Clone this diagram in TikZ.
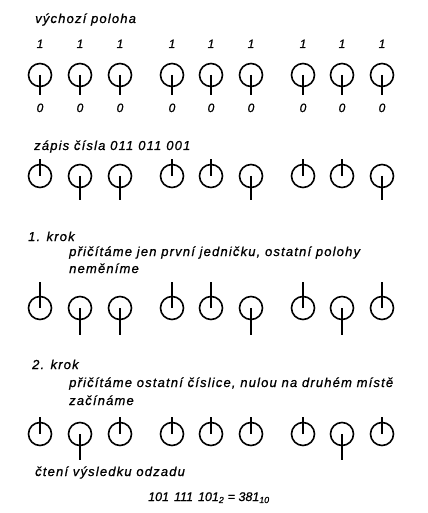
\documentclass[tikz,border=0pt]{standalone}
\usepackage{fontspec}
\setmainfont{Liberation Sans}
\newfontfamily\lettering[LetterSpace=9,FakeBold=0.8]{Liberation Sans}
\newfontfamily\plainlettering[FakeBold=0.8]{Liberation Sans}
\usetikzlibrary{calc}
\begin{document}
\begin{tikzpicture}[x=1bp,y=-1bp,
  lbl/.style={font=\lettering\fontsize{13bp}{15bp}\selectfont\itshape, inner sep=0pt},
  txt/.style={lbl, anchor=base west},
  dig/.style={font=\lettering\fontsize{12bp}{14bp}\selectfont\itshape, inner sep=0pt, anchor=base},
  formula/.style={font=\plainlettering\fontsize{12.5bp}{14bp}\selectfont\itshape, inner sep=0pt, anchor=base west},
  wheel/.style={draw, circle, line width=1.6bp, minimum size=23bp, inner sep=0pt},
  stem/.style={line width=1.6bp}]
\useasboundingbox (0,0) rectangle (427,513);
\def\xs{{40,80,120,172,211,251,303,342,382}}
% draw a row: #1 row id, #2 y, #3 pattern list (1 = stem up), #4 up length, #5 down length
\newcommand{\wheelrow}[5]{%
  \foreach \v [count=\i] in {#3} {
    \pgfmathsetmacro{\xx}{\xs[\i-1]}
    \node[wheel] (w#1\i) at (\xx,#2) {};
    \ifnum\v=1
      \coordinate (e#1\i) at ($(w#1\i.center)+(0,-#4)$);
    \else
      \coordinate (e#1\i) at ($(w#1\i.center)+(0,#5)$);
    \fi
    \draw[stem] (w#1\i.center) -- (e#1\i);
  }}
% texts
\node[txt] (t1) at (35,23) {výchozí poloha};
\node[txt] (t2) at (34,150) {zápis čísla 011\hspace{5bp}011\hspace{5bp}001};
\node[txt] (t3) at (28,241) {1. krok};
\node[txt] (t3a) at (69,256) {přičítáme jen první jedničku, ostatní polohy};
\node[txt] (t3b) at (69,273) {neměníme};
\node[txt] (t4) at (32,369) {2. krok};
\node[txt] (t4a) at (69,387) {přičítáme ostatní číslice, nulou na druhém místě};
\node[txt] (t4b) at (69,405) {začínáme};
\node[txt] (t5) at (35,476) {čtení výsledku odzadu};
\node[formula] (t6) at (148,501) {101\hspace{5bp}111\hspace{5bp}101\textsubscript{2} = 381\textsubscript{10}};
% row 1 labels
\foreach \i in {1,...,9} {
  \pgfmathsetmacro{\xx}{\xs[\i-1]}
  \node[dig] (one\i) at (\xx,48) {1};
  \node[dig] (zero\i) at (\xx,112) {0};
}
% wheel rows
\wheelrow{a}{75}{0,0,0,0,0,0,0,0,0}{17}{20}
\wheelrow{b}{176}{1,0,0,1,1,0,1,1,0}{17}{24}
\wheelrow{c}{308}{1,0,0,1,1,0,1,0,1}{26}{27}
\wheelrow{d}{434}{1,0,1,1,1,1,1,0,1}{17}{26}
\end{tikzpicture}
\end{document}
